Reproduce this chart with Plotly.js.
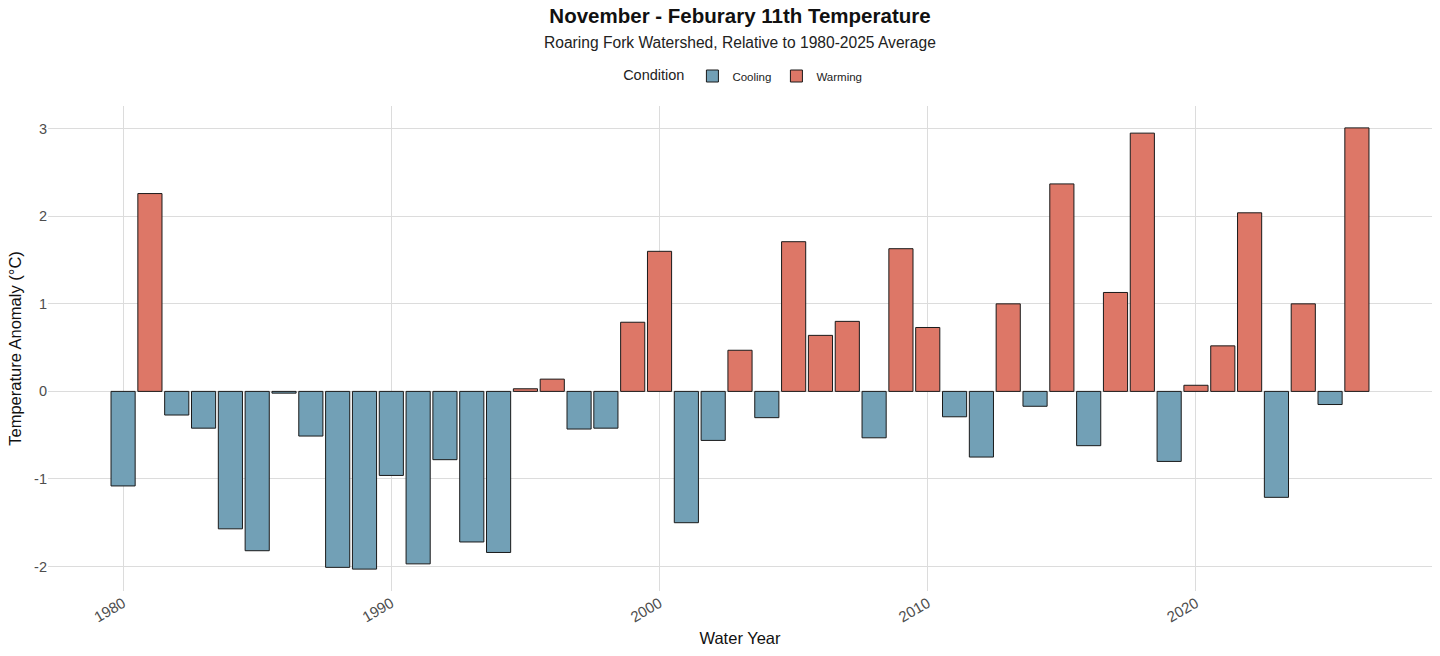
<!DOCTYPE html>
<html>
<head>
<meta charset="utf-8">
<script src="https://cdn.plot.ly/plotly-3.0.1.min.js"></script>
<style>html,body{margin:0;padding:0;background:#fff;}#chart{width:1440px;height:656px;}</style>
</head>
<body>
<div id="chart"></div>
<script>
const years = [1980,1981,1982,1983,1984,1985,1986,1987,1988,1989,1990,1991,1992,1993,1994,1995,1996,1997,1998,1999,2000,2001,2002,2003,2004,2005,2006,2007,2008,2009,2010,2011,2012,2013,2014,2015,2016,2017,2018,2019,2020,2021,2022,2023,2024,2025,2026];
const anomalies = [-1.08,2.26,-0.27,-0.42,-1.57,-1.82,-0.02,-0.51,-2.01,-2.03,-0.96,-1.97,-0.78,-1.72,-1.84,0.03,0.14,-0.43,-0.42,0.79,1.60,-1.50,-0.56,0.47,-0.30,1.71,0.64,0.80,-0.53,1.63,0.73,-0.29,-0.75,1.00,-0.17,2.37,-0.62,1.13,2.95,-0.80,0.07,0.52,2.04,-1.21,1.00,-0.15,3.01];
const conditionNames = ["Cooling","Warming"];
const tickYears = [1980,1990,2000,2010,2020];
const yTicks = [-2,-1,0,1,2,3];

const colors = {Cooling:"rgb(114,160,182)", Warming:"rgb(221,119,103)"};
const traces = conditionNames.map(name => {
  const xs = [], ys = [];
  years.forEach((yr,i) => {
    const v = anomalies[i];
    if ((name === "Cooling" && v < 0) || (name === "Warming" && v >= 0)) { xs.push(yr); ys.push(v); }
  });
  return {type:"bar", name:name, x:xs, y:ys, width:0.9,
    marker:{color:colors[name], line:{color:"#1a1a1a", width:1}}, hoverinfo:"x+y"};
});

const gridC = "#dcdcdc";
const layout = {
  width:1440, height:656,
  margin:{l:48, r:8, t:106, b:65},
  paper_bgcolor:"#fff", plot_bgcolor:"#fff",
  font:{family:"Liberation Sans, Arial, sans-serif", color:"#222"},
  barmode:"overlay",
  title:{text:"<b>November - Feburary 11th Temperature</b>", font:{size:20.5, color:"#111"},
    x:0.5, xref:"paper", xanchor:"center", y:1-16/656, yref:"container", yanchor:"middle"},
  annotations:[{text:"Roaring Fork Watershed, Relative to 1980-2025 Average", showarrow:false,
    xref:"paper", yref:"paper", x:0.5, xanchor:"center", y:1+ (106-42)/485, yanchor:"middle",
    font:{size:15.6, color:"#222"}}],
  showlegend:true,
  legend:{orientation:"h", x:0.503, xanchor:"center", xref:"paper", y:1-76/656, yref:"container", yanchor:"middle",
    title:{text:"Condition", font:{size:14.5, color:"#222"}, side:"left"}, font:{size:11.5, color:"#222"},
    itemwidth:30, tracegroupgap:0},
  xaxis:{range:[1977.2, 2028.8], tickvals:tickYears, ticktext:tickYears.map(String), tickangle:-30,
    tickfont:{size:15, color:"#4d4d4d"}, showgrid:true, gridcolor:gridC, gridwidth:1, zeroline:false,
    showline:false, ticks:"", ticklen:4,
    title:{text:"Water Year", font:{size:16.5, color:"#111"}, standoff:8}},
  yaxis:{range:[-2.28, 3.26], tickvals:yTicks, ticktext:yTicks.map(String),
    tickfont:{size:14.5, color:"#4d4d4d"}, showgrid:true, gridcolor:gridC, gridwidth:1, zeroline:false,
    showline:false, ticks:"",
    title:{text:"Temperature Anomaly (°C)", font:{size:16.5, color:"#111"}, standoff:8}}
};
Plotly.newPlot("chart", traces, layout, {displayModeBar:false, staticPlot:true});
</script>
</body>
</html>
